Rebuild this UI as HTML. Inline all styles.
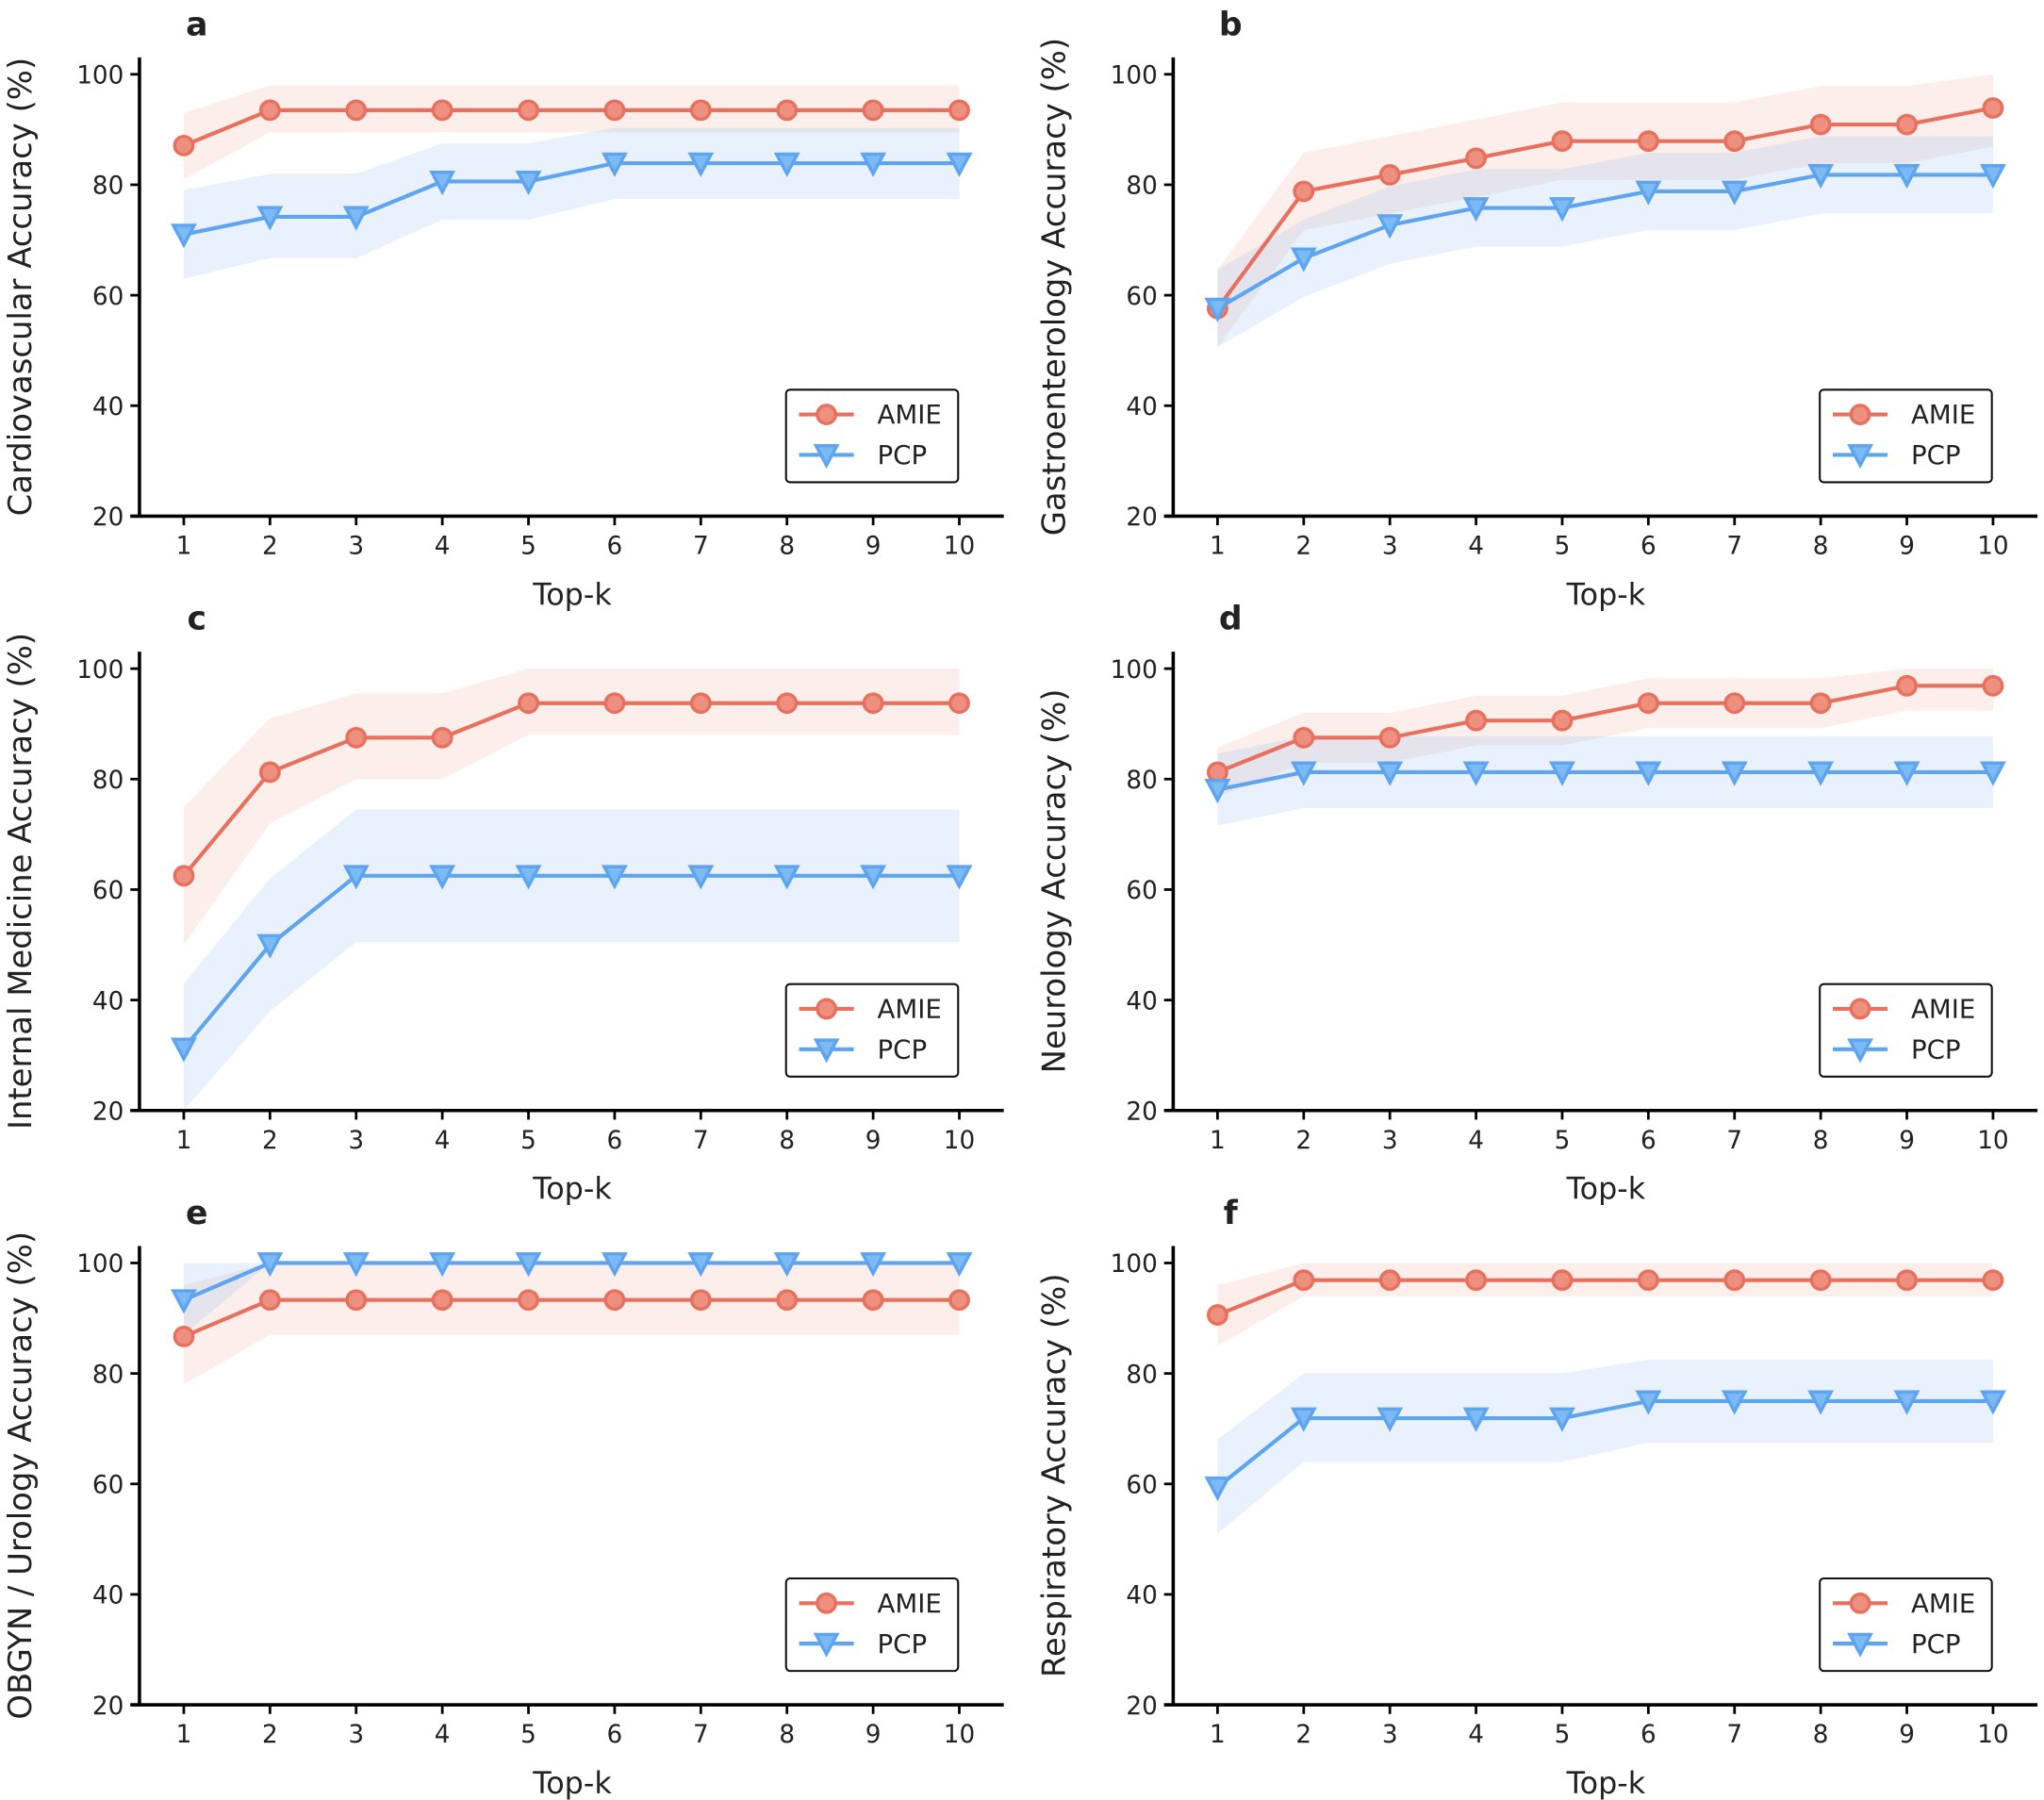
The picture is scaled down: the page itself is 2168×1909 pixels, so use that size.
<!DOCTYPE html>
<html><head><meta charset="utf-8"><style>html,body{margin:0;padding:0;background:#fff}svg{display:block}</style></head>
<body>
<svg id="s" width="2168" height="1909" viewBox="0 0 1568 1381" preserveAspectRatio="none" xmlns="http://www.w3.org/2000/svg" font-family="'DejaVu Sans','Liberation Sans',sans-serif"></svg>
<script>
const P=[
 {lab:'a',yl:'Cardiovascular Accuracy (%)',ox:0,oy:0,
  A:[87.1,93.5,93.5,93.5,93.5,93.5,93.5,93.5,93.5,93.5],Alo:[81,89.5,89.5,89.5,89.5,89.5,89.5,89.5,89.5,89.5],Ahi:[93,98,98,98,98,98,98,98,98,98],
  B:[71,74.2,74.2,80.6,80.6,83.9,83.9,83.9,83.9,83.9],Blo:[63,66.7,66.7,73.7,73.7,77.4,77.4,77.4,77.4,77.4],Bhi:[79,82,82,87.5,87.5,90.3,90.3,90.3,90.3,90.3]},
 {lab:'b',yl:'Gastroenterology Accuracy (%)',ox:793,oy:0,
  A:[57.6,78.8,81.8,84.8,87.9,87.9,87.9,90.9,90.9,93.9],d1:7,
  B:[57.6,66.7,72.7,75.8,75.8,78.8,78.8,81.8,81.8,81.8],d2:7},
 {lab:'c',yl:'Internal Medicine Accuracy (%)',ox:0,oy:456,
  A:[62.5,81.25,87.5,87.5,93.75,93.75,93.75,93.75,93.75,93.75],Alo:[50,72,80,80,88,88,88,88,88,88],Ahi:[75,91,95.5,95.5,100,100,100,100,100,100],
  B:[31.25,50,62.5,62.5,62.5,62.5,62.5,62.5,62.5,62.5],Blo:[20,38,50.5,50.5,50.5,50.5,50.5,50.5,50.5,50.5],Bhi:[43,62,74.5,74.5,74.5,74.5,74.5,74.5,74.5,74.5]},
 {lab:'d',yl:'Neurology Accuracy (%)',ox:793,oy:456,
  A:[81.25,87.5,87.5,90.6,90.6,93.75,93.75,93.75,96.9,96.9],d1:4.5,
  B:[78.1,81.25,81.25,81.25,81.25,81.25,81.25,81.25,81.25,81.25],d2:6.5},
 {lab:'e',yl:'OBGYN / Urology Accuracy (%)',ox:0,oy:912,
  A:[86.7,93.3,93.3,93.3,93.3,93.3,93.3,93.3,93.3,93.3],Alo:[78,87,87,87,87,87,87,87,87,87],Ahi:[96,100,100,100,100,100,100,100,100,100],
  B:[93.3,100,100,100,100,100,100,100,100,100],Blo:[87,100,100,100,100,100,100,100,100,100],Bhi:[100,100,100,100,100,100,100,100,100,100]},
 {lab:'f',yl:'Respiratory Accuracy (%)',ox:793,oy:912,
  A:[90.6,96.9,96.9,96.9,96.9,96.9,96.9,96.9,96.9,96.9],Alo:[85,94,94,94,94,94,94,94,94,94],Ahi:[96,100,100,100,100,100,100,100,100,100],
  B:[59.4,71.9,71.9,71.9,71.9,75,75,75,75,75],Blo:[51,64,64,64,64,67.5,67.5,67.5,67.5,67.5],Bhi:[68,80,80,80,80,82.5,82.5,82.5,82.5,82.5]}
];
const RC='#e8705e',BC='#5ea4ef';
let h='';
for(const p of P){
 if(p.d1){p.Alo=p.A.map(v=>v-p.d1);p.Ahi=p.A.map(v=>Math.min(100,v+p.d1));p.Blo=p.B.map(v=>v-p.d2);p.Bhi=p.B.map(v=>Math.min(100,v+p.d2));}
 const X=i=>p.ox+141+i*66.1, Y=v=>p.oy+396-(v-20)*339/80;
 const ax=p.ox+107, by=p.oy+396;
 const band=(lo,hi,c)=>{let s=hi.map((v,i)=>X(i)+','+Y(v)).join(' ')+' '+lo.map((v,i)=>X(i)+','+Y(v)).reverse().join(' ');return `<polygon points="${s}" fill="${c}"/>`;};
 h+=band(p.Alo,p.Ahi,'rgba(240,170,150,0.2)');
 h+=band(p.Blo,p.Bhi,'rgba(140,185,240,0.2)');
 h+=`<polyline points="${p.A.map((v,i)=>X(i)+','+Y(v)).join(' ')}" fill="none" stroke="${RC}" stroke-width="3"/>`;
 h+=`<polyline points="${p.B.map((v,i)=>X(i)+','+Y(v)).join(' ')}" fill="none" stroke="${BC}" stroke-width="3"/>`;
 p.A.forEach((v,i)=>h+=`<circle cx="${X(i)}" cy="${Y(v)}" r="7" fill="#ee9080" stroke="${RC}" stroke-width="2.5"/>`);
 const tri=(x,y)=>`<polygon points="${x-8},${y-7} ${x+8},${y-7} ${x},${y+8}" fill="#7cbaf5" stroke="${BC}" stroke-width="2.5"/>`;
 p.B.forEach((v,i)=>h+=tri(X(i),Y(v)));
 h+=`<line x1="${ax}" y1="${p.oy+44}" x2="${ax}" y2="${by}" stroke="#000" stroke-width="2.6"/>`;
 h+=`<line x1="${ax-7}" y1="${by}" x2="${p.ox+770}" y2="${by}" stroke="#000" stroke-width="2.6"/>`;
 for(let v=20;v<=100;v+=20){h+=`<line x1="${ax-7}" y1="${Y(v)}" x2="${ax}" y2="${Y(v)}" stroke="#000" stroke-width="2"/><text x="${ax-12}" y="${Y(v)+7}" font-size="19" text-anchor="end" fill="#222">${v}</text>`;}
 for(let i=0;i<10;i++){h+=`<line x1="${X(i)}" y1="${by}" x2="${X(i)}" y2="${by+7}" stroke="#000" stroke-width="2"/><text x="${X(i)}" y="${by+29}" font-size="19" text-anchor="middle" fill="#222">${i+1}</text>`;}
 h+=`<text x="${p.ox+439}" y="${by+68}" font-size="23" text-anchor="middle" fill="#222">Top-k</text>`;
 h+=`<text transform="translate(${p.ox+24},${p.oy+220}) rotate(-90)" font-size="24.5" text-anchor="middle" fill="#222">${p.yl}</text>`;
 h+=`<text x="${p.ox+151}" y="${p.oy+27}" font-size="25" font-weight="bold" text-anchor="middle" fill="#222">${p.lab}</text>`;
 const lx=p.ox+603, ly=p.oy+299;
 h+=`<rect x="${lx}" y="${ly}" width="132" height="71" rx="3" fill="#fff" stroke="#111" stroke-width="1.5"/>`;
 h+=`<line x1="${lx+10}" y1="${ly+19}" x2="${lx+52}" y2="${ly+19}" stroke="${RC}" stroke-width="3"/><circle cx="${lx+31}" cy="${ly+19}" r="7" fill="#ee9080" stroke="${RC}" stroke-width="2.5"/>`;
 h+=`<text x="${lx+70}" y="${ly+26}" font-size="20" fill="#222">AMIE</text>`;
 h+=`<line x1="${lx+10}" y1="${ly+50}" x2="${lx+52}" y2="${ly+50}" stroke="${BC}" stroke-width="3"/>`+tri(lx+31,ly+50);
 h+=`<text x="${lx+70}" y="${ly+57}" font-size="20" fill="#222">PCP</text>`;
}
document.getElementById('s').innerHTML=h;
</script>
</body></html>
